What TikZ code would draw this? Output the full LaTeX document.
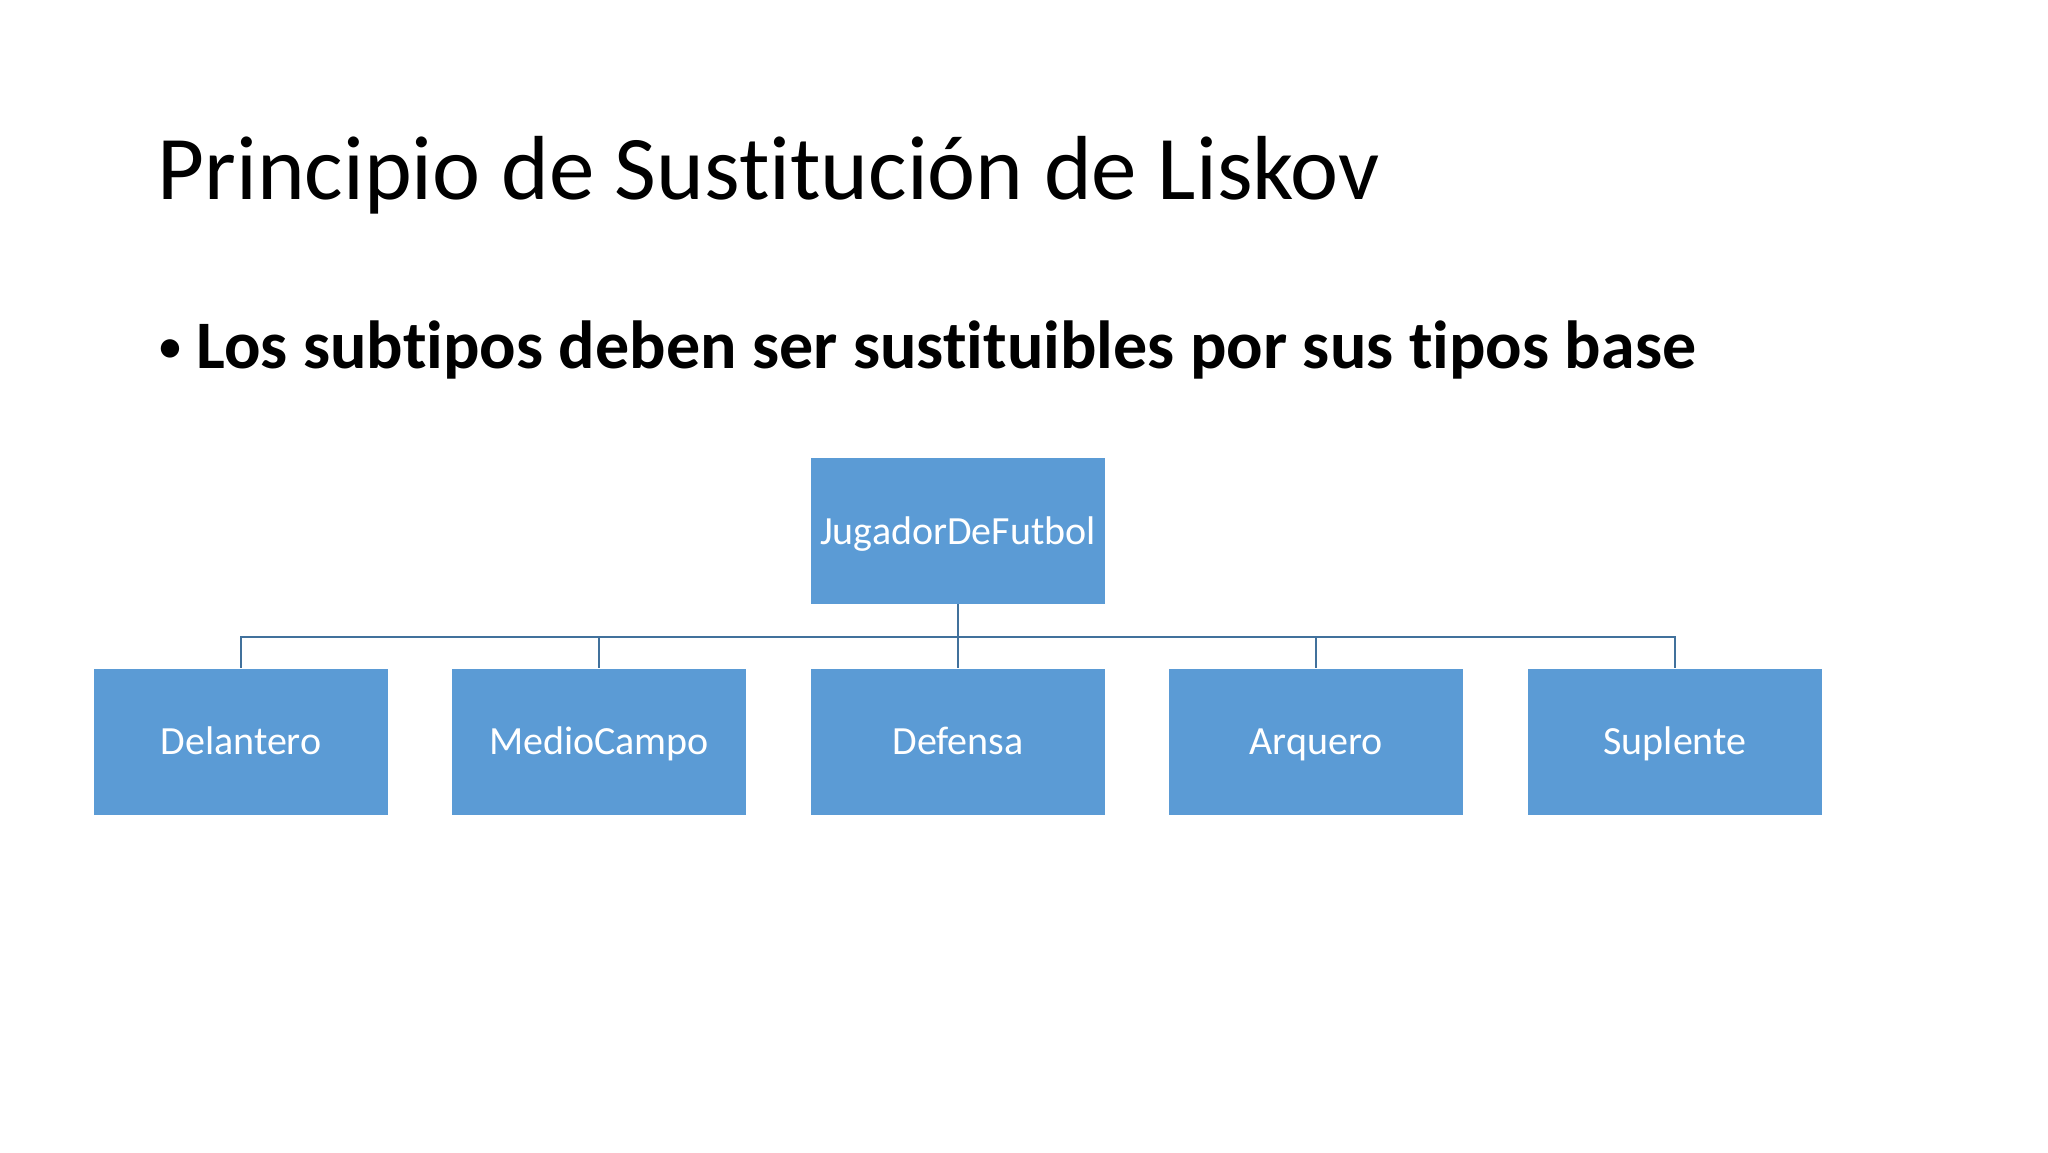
\documentclass[tikz,border=0pt]{standalone}
\usepackage{fontspec}
\setmainfont{Carlito}[Ligatures=NoCommon]
\definecolor{boxblue}{HTML}{5B9BD5}
\definecolor{lineblue}{HTML}{41719C}
\tikzset{
  caja/.style={fill=boxblue, text=white, minimum width=147pt, minimum height=73pt, inner sep=0pt, text height=17pt, text depth=4pt, font=\fontsize{20}{24}\selectfont},
  rama/.style={draw=lineblue, line width=0.8pt}
}
\begin{document}
\begin{tikzpicture}[x=0.5pt, y=-0.5pt]
            \useasboundingbox (0,0) rectangle (2048,1152);

            \node[anchor=base west, inner sep=0pt, font=\fontsize{45.5}{54}\selectfont] (titulo) at (157,199) {Principio de Sustitución de Liskov};
            \node[anchor=base west, inner sep=0pt, font=\fontsize{26}{30}\selectfont] (punto) at (157,363) {\textbullet};
            \node[anchor=base west, inner sep=0pt, font=\bfseries\fontsize{34}{40}\selectfont] (texto) at (196,368) {Los subtipos deben ser sustituibles por sus tipos base};

            \node[caja] (JD) at (958, 531) {JugadorDeFutbol};

            \node[caja] (DL) at (241, 741.5) {Delantero};
            \node[caja] (MC) at (599, 741.5) {MedioCampo};
            \node[caja] (DF) at (958, 741.5) {Defensa};
            \node[caja] (AR) at (1316, 741.5) {Arquero};
            \node[caja] (SP) at (1675, 741.5) {Suplente};

            \coordinate (bus) at (958, 637);

            \draw[rama] (JD.south) -- (bus);
            \draw[rama] (bus) -| (DL.north);
            \draw[rama] (bus) -| (MC.north);
            \draw[rama] (bus) -- (DF.north);
            \draw[rama] (bus) -| (AR.north);
            \draw[rama] (bus) -| (SP.north);
        \end{tikzpicture}
\end{document}
